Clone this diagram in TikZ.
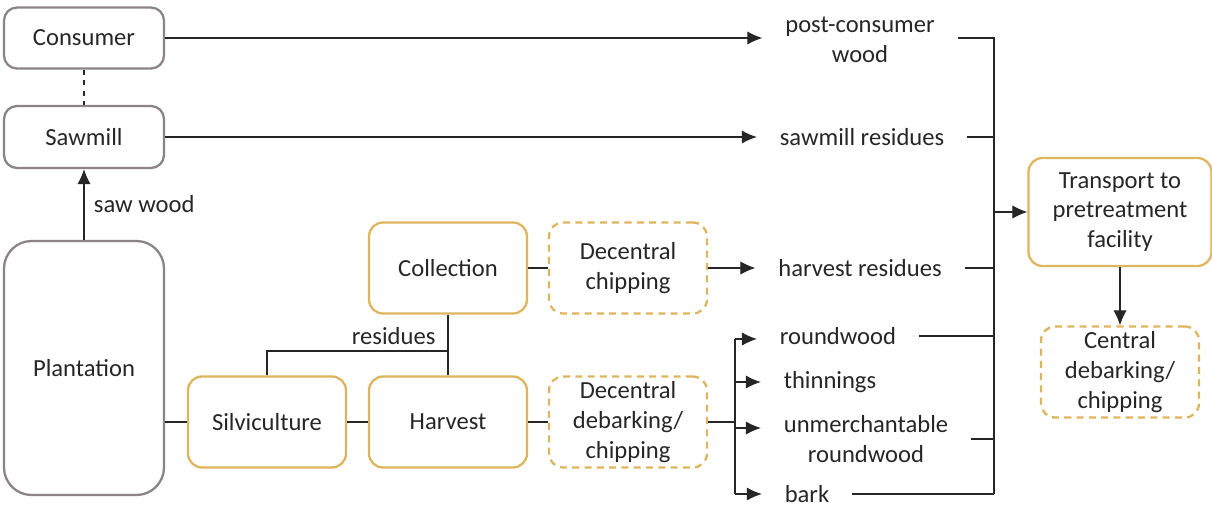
\documentclass[tikz,border=0pt]{standalone}
\usepackage{fontspec}
\setmainfont{Carlito}
\usetikzlibrary{arrows.meta}
\definecolor{boxgray}{RGB}{140,132,132}
\definecolor{boxgold}{RGB}{222,180,92}
\definecolor{ink}{RGB}{38,38,38}
\begin{document}
\begin{tikzpicture}[x=0.02cm, y=-0.02cm,
    font=\fontsize{14}{17}\selectfont, color=ink, line width=0.6pt,
    graybox/.style={draw=boxgray, line width=1.3pt, rounded corners=0.26cm,
        minimum width=3.2cm, align=center, inner sep=0pt},
    goldbox/.style={draw=boxgold, line width=1.3pt, rounded corners=0.28cm,
        minimum width=3.16cm, minimum height=1.82cm, align=center, inner sep=0pt},
    dashbox/.style={goldbox, dash pattern=on 4pt off 3pt},
    flow/.style={align=center, inner xsep=0.45cm, inner ysep=0pt},
    arr/.style={-{Latex[length=8.5pt, width=7.5pt]}}]

    \useasboundingbox (0,0) rectangle (1212,507);

    \node[graybox, minimum height=1.22cm] (consumer) at (84,38) {Consumer};
    \node[graybox, minimum height=1.24cm] (sawmill) at (84,137) {Sawmill};
    \node[graybox, minimum height=5.08cm, rounded corners=0.55cm] (plantation) at (84,368) {Plantation};

    \node[goldbox] (silviculture) at (267,422) {Silviculture};
    \node[goldbox] (harvest) at (448,422) {Harvest};
    \node[goldbox] (collection) at (448,268) {Collection};
    \node[dashbox] (dchip) at (628,268) {Decentral\\chipping};
    \node[dashbox] (ddebark) at (628,422) {Decentral\\debarking/\\chipping};

    \node[goldbox, minimum width=3.66cm, minimum height=2.16cm] (transport) at (1120,212) {Transport to\\pretreatment\\facility};
    \node[dashbox] (central) at (1120,372) {Central\\debarking/\\chipping};

    \node[flow] (pcw) at (860,40) {post-consumer\\wood};
    \node[flow] (smr) at (862,137) {sawmill residues};
    \node[flow] (hvr) at (860,268) {harvest residues};
    \node[flow] (rw) at (838,336) {roundwood};
    \node[flow] (thin) at (830,382) {thinnings};
    \node[flow] (urw) at (866,439) {unmerchantable\\roundwood};
    \node[flow] (bark) at (807,494) {bark};

    \coordinate (split) at (735,0);
    \coordinate (bus) at (994,0);

    \draw[arr] (consumer.east |- 0,38) -- (pcw.west |- 0,38);
    \draw[arr] (sawmill) -- (smr);
    \draw[arr] (dchip) -- (hvr);

    \draw[arr] (plantation) -- node[right, xshift=2pt] {saw wood} (sawmill);
    \draw[dashed] (consumer) -- (sawmill);

    \draw (plantation.east |- silviculture) -- (silviculture);
    \draw (silviculture) -- (harvest);
    \draw (harvest) -- (ddebark);
    \draw (collection) -- (dchip);
    \draw (collection) -- (harvest);
    \draw (silviculture) |- node[pos=0.85, above] {residues} (collection.south |- 0,351);

    \draw (ddebark) -- (split |- ddebark);
    \draw (split |- 0,339) -- (split |- bark);
    \draw[arr] (split |- 0,339) -- (rw.west |- 0,339);
    \draw[arr] (split |- thin) -- (thin);
    \draw[arr] (split |- 0,428) -- (urw.west |- 0,428);
    \draw[arr] (split |- bark) -- (bark);

    \draw (pcw.east |- 0,38) -- (bus |- 0,38) -- (bus |- bark);
    \draw (smr) -- (bus |- smr);
    \draw (hvr) -- (bus |- hvr);
    \draw (rw) -- (bus |- rw);
    \draw (urw) -- (bus |- urw);
    \draw (bark) -- (bus |- bark);
    \draw[arr] (bus |- transport) -- (transport);
    \draw[arr] (transport) -- (central);
\end{tikzpicture}
\end{document}
